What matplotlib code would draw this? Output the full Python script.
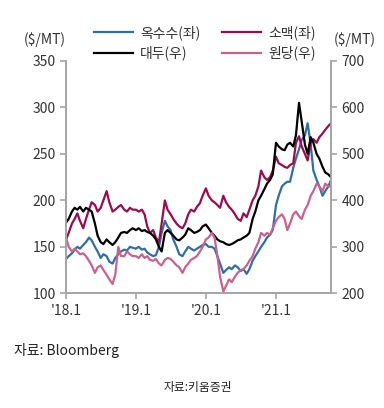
import matplotlib
matplotlib.use("Agg")
import matplotlib.pyplot as plt
import matplotlib.dates as mdates
import pandas as pd
import numpy as np

plt.rcParams['font.family'] = ['Noto Sans CJK KR', 'DejaVu Sans']

dates = pd.date_range('2018-01-01', '2021-10-15', freq='SMS')

# left axis ($/MT)
corn = [137, 140, 143, 147, 150, 148, 152, 155, 160, 157, 150, 145, 138, 142, 140, 134, 132, 138, 142, 145, 147, 146, 150, 149,
        148, 150, 147, 148, 144, 142, 140, 141, 150, 165, 178, 172, 168, 158, 150, 142, 140, 145, 150, 148, 146, 148, 150, 152,
        153, 150, 150, 148, 140, 132, 122, 125, 128, 126, 130, 128, 124, 126, 121, 126, 135, 140, 145, 150, 155, 160, 163, 168,
        195, 205, 215, 218, 220, 220, 235, 245, 255, 265, 270, 283, 260, 232, 222, 215, 205, 210, 215, 222]
wheat = [158, 165, 175, 180, 186, 178, 170, 180, 190, 198, 195, 188, 192, 200, 210, 198, 188, 190, 193, 195, 190, 188, 192, 190,
         190, 188, 190, 185, 172, 165, 168, 160, 155, 175, 200, 190, 185, 180, 175, 172, 170, 175, 185, 190, 188, 193, 197, 205,
         213, 205, 200, 198, 195, 192, 205, 198, 193, 190, 185, 180, 178, 186, 182, 190, 200, 205, 215, 232, 225, 222, 225, 232,
         247, 240, 238, 236, 235, 238, 240, 262, 269, 258, 250, 243, 262, 266, 262, 268, 272, 276, 280, 283]
# right axis ($/MT)
soy = [352, 360, 376, 384, 380, 386, 376, 384, 380, 376, 350, 324, 310, 306, 316, 310, 304, 310, 320, 330, 332, 330, 336, 340,
       336, 340, 334, 336, 332, 330, 324, 316, 300, 290, 330, 336, 330, 324, 316, 314, 320, 326, 340, 336, 330, 332, 336, 344,
       348, 340, 330, 324, 316, 312, 310, 306, 304, 306, 310, 314, 316, 320, 324, 330, 360, 376, 400, 410, 424, 436, 444, 456,
       524, 516, 510, 508, 520, 524, 516, 540, 610, 570, 520, 500, 536, 524, 500, 490, 472, 460, 456, 450]
sugar = [320, 300, 290, 296, 290, 284, 286, 280, 270, 260, 244, 256, 260, 250, 240, 230, 220, 240, 300, 280, 280, 290, 284, 280,
         280, 276, 284, 276, 280, 272, 270, 274, 264, 260, 272, 276, 274, 268, 260, 256, 244, 256, 264, 272, 276, 280, 290, 300,
         316, 320, 330, 320, 280, 236, 204, 216, 230, 224, 236, 244, 250, 252, 260, 270, 280, 296, 310, 330, 324, 330, 326, 340,
         356, 364, 370, 360, 336, 350, 370, 376, 366, 360, 380, 390, 410, 420, 436, 430, 420, 436, 430, 430]

labels = ['옥수수(좌)', '소맥(좌)', '대두(우)', '원당(우)']
colors = ['#2f6eaa', '#9c0c4c', '#000000', '#c9628c']
xtick_labels = ["'18.1", "'19.1", "'20.1", "'21.1"]
xtick_dates = pd.to_datetime(['2018-01-01', '2019-01-01', '2020-01-01', '2021-01-01'])

fig = plt.figure(figsize=(3.84, 4.08), dpi=100)
ax = fig.add_axes([66/384, 1-293.3/408, 265/384, 232.3/408])
ax2 = ax.twinx()

lw = 1.6
l1, = ax.plot(dates, corn, color=colors[0], lw=lw, label=labels[0])
l2, = ax.plot(dates, wheat, color=colors[1], lw=lw, label=labels[1])
l3, = ax2.plot(dates, soy, color=colors[2], lw=lw, label=labels[2])
l4, = ax2.plot(dates, sugar, color=colors[3], lw=lw, label=labels[3])

ax.set_xlim(dates[0], dates[-1])
ax.set_ylim(100, 350)
ax2.set_ylim(200, 700)
ax.set_yticks(np.arange(100, 351, 50))
ax2.set_yticks(np.arange(200, 701, 100))
ax.set_xticks(xtick_dates)
ax.set_xticklabels(xtick_labels)

gray = '#a6a6a6'
for a in (ax, ax2):
    for s in a.spines.values():
        s.set_color(gray)
        s.set_linewidth(1.3)
    a.spines['top'].set_visible(False)
    a.tick_params(colors=gray, labelcolor='#333333', labelsize=10, length=4, width=1.2, direction='out')
ax.tick_params(axis='x', pad=4)

fig.text(45/384, 1-40/408, '($/MT)', ha='center', va='center', fontsize=10, color='#333333')
fig.text(355/384, 1-40/408, '($/MT)', ha='center', va='center', fontsize=10, color='#333333')

fig.legend([l1, l3, l2, l4], [labels[0], labels[2], labels[1], labels[3]], ncol=2,
           loc='center', bbox_to_anchor=(205/384, 1-43/408), frameon=False, fontsize=10,
           handlelength=2.8, handletextpad=0.5, columnspacing=1.6, labelspacing=0.4,
           labelcolor='#333333')

fig.text(14/384, 1-350/408, '자료: Bloomberg', ha='left', va='center', fontsize=10, color='#222222')
fig.text(198/384, 1-388/408, '자료:키움증권', ha='center', va='center', fontsize=8.5, color='#222222')

fig.savefig('out.png', dpi=100)
